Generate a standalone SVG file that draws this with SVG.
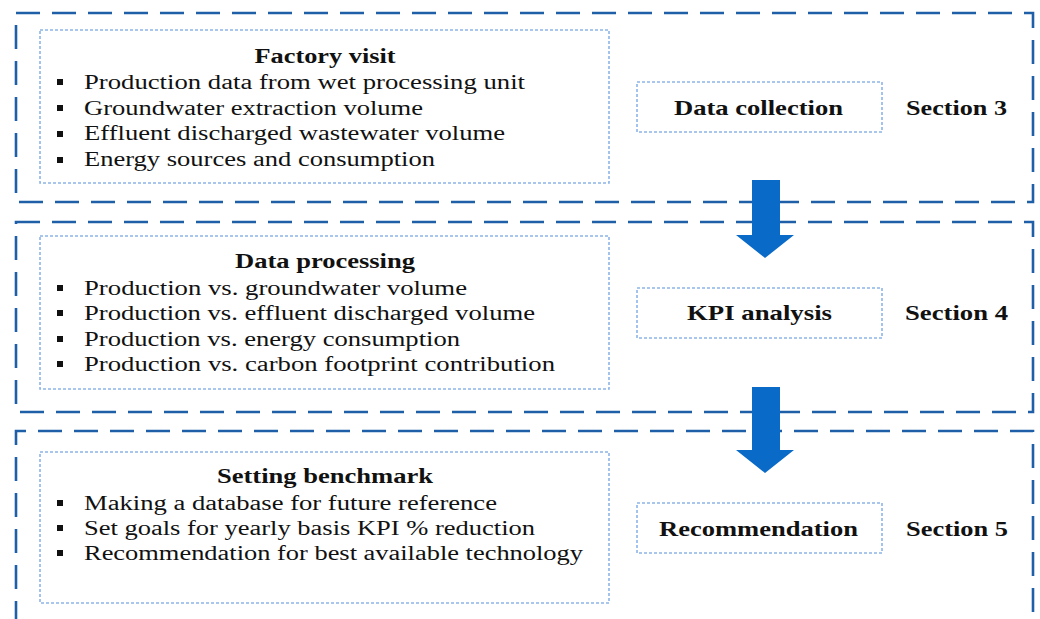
<svg xmlns="http://www.w3.org/2000/svg" width="1040" height="619" viewBox="0 0 1040 619">
  <style>
    .stage { fill: none; stroke: #1f5fa8; stroke-width: 2.6; stroke-dasharray: 24 12; }
    .inner { fill: #ffffff; stroke: #8db4e8; stroke-width: 1.6; stroke-dasharray: 3 2; }
    .head { font-family: "Liberation Serif", "Times New Roman", serif; font-weight: bold; font-size: 20px; fill: #111; text-anchor: middle; }
    .item { font-family: "Liberation Serif", "Times New Roman", serif; font-size: 20px; fill: #111; }
    .label { font-family: "Liberation Serif", "Times New Roman", serif; font-weight: bold; font-size: 21px; fill: #111; }
    .bullet { fill: #111; }
    .flow { fill: #0a6ac8; }
  </style>
  <defs>
    <rect id="sq" width="6" height="6" class="bullet"/>
  </defs>
  <rect width="1040" height="619" fill="#ffffff"/>

  <!-- Stage frames -->
  <g id="stage-frames">
    <rect class="stage" x="16" y="13" width="1017" height="189"/>
    <rect class="stage" x="16" y="222" width="1017" height="190"/>
    <path class="stage" d="M16 625 V431 H1033 V625"/>
  </g>

  <!-- Stage 1: data collection -->
  <g id="factory-visit">
    <rect class="inner" x="40" y="30" width="569" height="153"/>
    <text class="head" x="325" y="63" textLength="141" lengthAdjust="spacingAndGlyphs">Factory visit</text>
    <use href="#sq" x="57" y="79"/>
    <use href="#sq" x="57" y="105"/>
    <use href="#sq" x="57" y="131"/>
    <use href="#sq" x="57" y="157"/>
    <text class="item" x="84" y="89" textLength="441" lengthAdjust="spacingAndGlyphs">Production data from wet processing unit</text>
    <text class="item" x="84" y="115" textLength="339" lengthAdjust="spacingAndGlyphs">Groundwater extraction volume</text>
    <text class="item" x="84" y="140" textLength="421" lengthAdjust="spacingAndGlyphs">Effluent discharged wastewater volume</text>
    <text class="item" x="84" y="166" textLength="351" lengthAdjust="spacingAndGlyphs">Energy sources and consumption</text>
  </g>
  <g id="data-collection">
    <rect class="inner" x="637" y="82" width="245" height="50"/>
    <text class="label" x="674" y="115" textLength="169" lengthAdjust="spacingAndGlyphs">Data collection</text>
  </g>
  <g id="section-3">
    <text class="label" x="906" y="115" textLength="101" lengthAdjust="spacingAndGlyphs">Section 3</text>
  </g>

  <!-- Stage 2: KPI analysis -->
  <g id="data-processing">
    <rect class="inner" x="40" y="236" width="569" height="153"/>
    <text class="head" x="325" y="268" textLength="180" lengthAdjust="spacingAndGlyphs">Data processing</text>
    <use href="#sq" x="57" y="285"/>
    <use href="#sq" x="57" y="310"/>
    <use href="#sq" x="57" y="336"/>
    <use href="#sq" x="57" y="361"/>
    <text class="item" x="84" y="295" textLength="383" lengthAdjust="spacingAndGlyphs">Production vs. groundwater volume</text>
    <text class="item" x="84" y="320" textLength="451" lengthAdjust="spacingAndGlyphs">Production vs. effluent discharged volume</text>
    <text class="item" x="84" y="346" textLength="376" lengthAdjust="spacingAndGlyphs">Production vs. energy consumption</text>
    <text class="item" x="84" y="371" textLength="471" lengthAdjust="spacingAndGlyphs">Production vs. carbon footprint contribution</text>
  </g>
  <g id="kpi-analysis">
    <rect class="inner" x="637" y="288" width="245" height="50"/>
    <text class="label" x="687" y="320" textLength="145" lengthAdjust="spacingAndGlyphs">KPI analysis</text>
  </g>
  <g id="section-4">
    <text class="label" x="905" y="320" textLength="103" lengthAdjust="spacingAndGlyphs">Section 4</text>
  </g>

  <!-- Stage 3: recommendation -->
  <g id="setting-benchmark">
    <rect class="inner" x="40" y="452" width="569" height="151"/>
    <text class="head" x="325" y="483" textLength="216" lengthAdjust="spacingAndGlyphs">Setting benchmark</text>
    <use href="#sq" x="57" y="500"/>
    <use href="#sq" x="57" y="525"/>
    <use href="#sq" x="57" y="550"/>
    <text class="item" x="84" y="510" textLength="413" lengthAdjust="spacingAndGlyphs">Making a database for future reference</text>
    <text class="item" x="84" y="535" textLength="451" lengthAdjust="spacingAndGlyphs">Set goals for yearly basis KPI % reduction</text>
    <text class="item" x="84" y="560" textLength="499" lengthAdjust="spacingAndGlyphs">Recommendation for best available technology</text>
  </g>
  <g id="recommendation">
    <rect class="inner" x="637" y="503" width="245" height="50"/>
    <text class="label" x="659" y="536" textLength="199" lengthAdjust="spacingAndGlyphs">Recommendation</text>
  </g>
  <g id="section-5">
    <text class="label" x="906" y="536" textLength="102" lengthAdjust="spacingAndGlyphs">Section 5</text>
  </g>

  <!-- Flow arrows between stages -->
  <g id="connectors">
    <path class="flow" d="M752 180 H780 V235 H794 L765 258 L736 235 H752 Z"/>
    <path class="flow" d="M752 387 H780 V450 H794 L765 473 L736 450 H752 Z"/>
  </g>
</svg>
